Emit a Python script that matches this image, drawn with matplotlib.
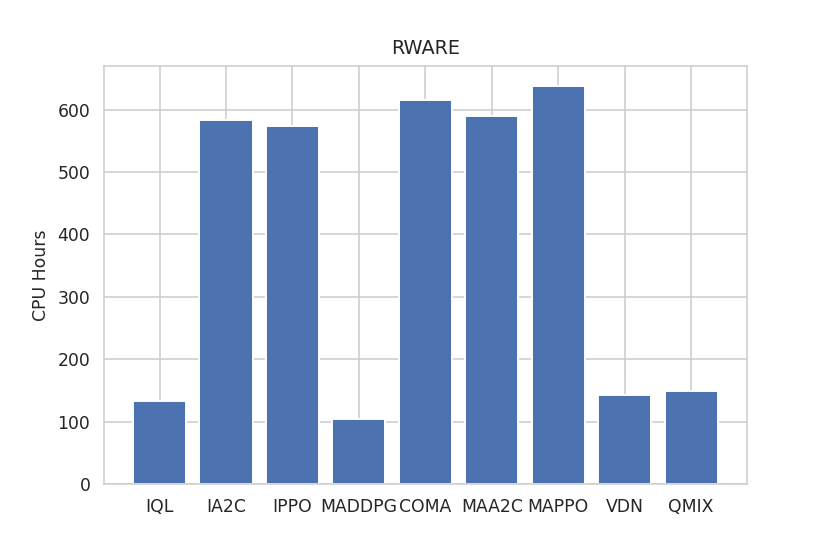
import matplotlib
matplotlib.use("Agg")
import matplotlib.pyplot as plt
import seaborn as sns

algorithms = ["IQL", "IA2C", "IPPO", "MADDPG", "COMA", "MAA2C", "MAPPO", "VDN", "QMIX"]
cpu_hours = [134, 583, 574, 104, 616, 590, 638, 143, 149]

sns.set_style("whitegrid")
plt.rcParams["font.size"] = 9
fig, ax = plt.subplots(figsize=(6, 4.005), dpi=138.33)
fig.subplots_adjust(left=0.125, right=0.9, top=0.881, bottom=0.126)

ax.bar(algorithms, cpu_hours, color="#4C72B0", edgecolor="white")
ax.set_title("RWARE", fontsize=10)
ax.set_ylabel("CPU Hours", fontsize=9)
ax.tick_params(labelsize=9)

plt.savefig("out.png", dpi=138.33)
